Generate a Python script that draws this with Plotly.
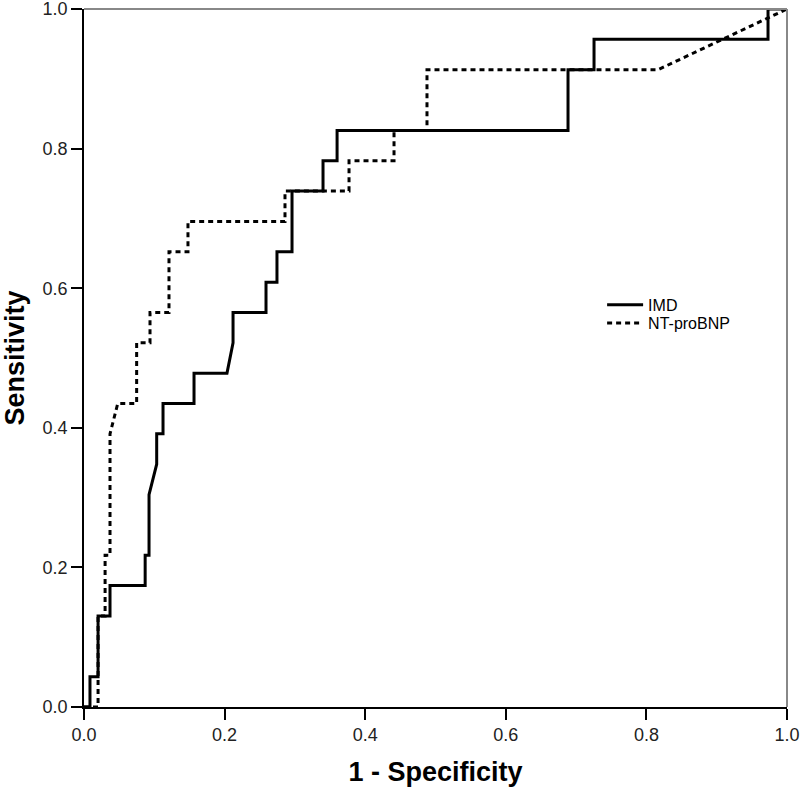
import plotly.graph_objects as go

# IMD ROC curve (1 - specificity, sensitivity)
imd_fpr = [0.0, 0.0085, 0.0085, 0.020, 0.020, 0.037, 0.037, 0.087, 0.087, 0.0925, 0.0925,
           0.1034, 0.1034, 0.1124, 0.1124, 0.1565, 0.1565, 0.2034, 0.212, 0.212, 0.2589,
           0.2589, 0.2745, 0.2745, 0.2959, 0.2959, 0.340, 0.340, 0.360, 0.360, 0.6885,
           0.6885, 0.7255, 0.7255, 0.973, 0.973, 1.0]
imd_tpr = [0.0, 0.0, 0.0435, 0.0435, 0.1304, 0.1304, 0.1739, 0.1739, 0.2174, 0.2174, 0.3043,
           0.3478, 0.3913, 0.3913, 0.4348, 0.4348, 0.4783, 0.4783, 0.5217, 0.5652, 0.5652,
           0.6087, 0.6087, 0.6522, 0.6522, 0.7391, 0.7391, 0.7826, 0.7826, 0.8261, 0.8261,
           0.9130, 0.9130, 0.9565, 0.9565, 1.0, 1.0]

# NT-proBNP ROC curve
bnp_fpr = [0.0, 0.020, 0.020, 0.030, 0.030, 0.037, 0.037, 0.048, 0.0749, 0.0749, 0.0939,
           0.0939, 0.1209, 0.1209, 0.1479, 0.1479, 0.2859, 0.2859, 0.377, 0.377, 0.441,
           0.441, 0.4879, 0.4879, 0.8165, 1.0]
bnp_tpr = [0.0, 0.0, 0.1304, 0.1304, 0.2174, 0.2174, 0.3913, 0.4348, 0.4348, 0.5217, 0.5217,
           0.5652, 0.5652, 0.6522, 0.6522, 0.6957, 0.6957, 0.7391, 0.7391, 0.7826, 0.7826,
           0.8261, 0.8261, 0.9130, 0.9130, 1.0]

tick_vals = [0.0, 0.2, 0.4, 0.6, 0.8, 1.0]
tick_text = ["0.0", "0.2", "0.4", "0.6", "0.8", "1.0"]

FONT = "Liberation Sans, Arial, sans-serif"

fig = go.Figure()
fig.add_trace(go.Scatter(x=imd_fpr, y=imd_tpr, mode="lines", name="IMD",
                         line=dict(color="black", width=3), legend="legend"))
fig.add_trace(go.Scatter(x=bnp_fpr, y=bnp_tpr, mode="lines", name="NT-proBNP",
                         line=dict(color="black", width=3, dash="5px,4px"), legend="legend2"))

axis_common = dict(range=[0, 1], tickvals=tick_vals, ticktext=tick_text,
                   showgrid=False, zeroline=False, showline=True, linecolor="black",
                   linewidth=1.5, ticks="outside", ticklen=11, tickcolor="black",
                   tickwidth=1.5, ticklabeloverflow="allow", automargin=False,
                   tickfont=dict(family=FONT, size=18, color="#222222"))

fig.update_xaxes(**axis_common,
                 title=dict(text="<b>1 - Specificity</b>", font=dict(family=FONT, size=27, color="black"),
                            standoff=18))
fig.update_yaxes(**axis_common,
                 title=dict(text="<b>Sensitivity</b>", font=dict(family=FONT, size=27, color="black"),
                            standoff=14))

# gray top and right frame lines
fig.add_shape(type="line", xref="paper", yref="paper", x0=0, x1=1, y0=1, y1=1,
              line=dict(color="#888888", width=2))
fig.add_shape(type="line", xref="paper", yref="paper", x0=1, x1=1, y0=0, y1=1,
              line=dict(color="#888888", width=2))

legend_style = dict(xanchor="left", yanchor="middle", bgcolor="rgba(0,0,0,0)",
                    font=dict(family=FONT, size=16, color="black"), itemwidth=36)

fig.update_layout(
    width=800, height=792,
    margin=dict(l=84, r=13, t=9, b=85, autoexpand=False),
    plot_bgcolor="white", paper_bgcolor="white",
    font=dict(family=FONT, color="black"),
    legend=dict(x=0.737, y=0.576, **legend_style),
    legend2=dict(x=0.737, y=0.550, **legend_style),
    showlegend=True,
)

fig.write_html("out.html", config={"displayModeBar": False},
               post_script="document.body.style.margin='0px';")
